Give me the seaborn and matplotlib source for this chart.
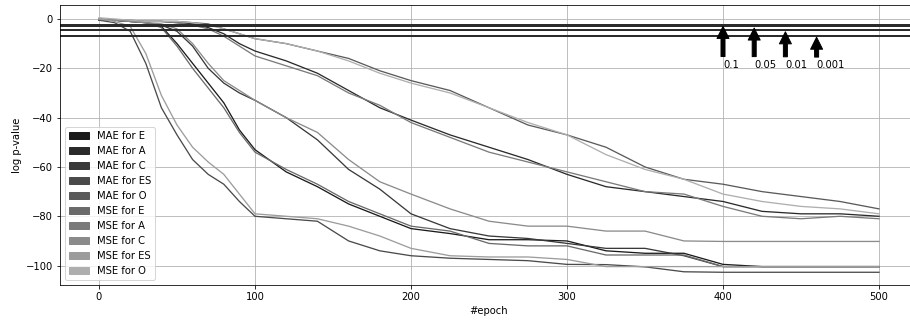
import numpy as np
import pandas as pd
import matplotlib
matplotlib.use('Agg')
import matplotlib.pyplot as plt
from matplotlib.patches import Patch
import seaborn as sns

epochs = [0, 10, 20, 30, 40, 50, 60, 70, 80, 90, 100, 120, 140, 160, 180, 200,
          225, 250, 275, 300, 325, 350, 375, 400, 425, 450, 475, 500]

mae_e = [-0.5, -0.5, -1, -1.5, -3, -10, -18, -26, -34, -45, -53, -62, -68, -75, -80, -85,
         -87, -89.5, -89.5, -90, -94, -95, -95, -99.5, -100.4, -100.4, -100.4, -100.4]
mae_a = [-0.5, -0.5, -1, -1, -1, -1.5, -2, -3.5, -6, -10, -13, -17, -22, -29, -36, -41,
         -47, -52, -57, -63, -68, -70, -72, -74, -78, -79, -79, -80]
mae_c = [-0.5, -0.5, -1, -1.5, -2.5, -5, -11, -20, -26, -30, -33, -40, -49, -61, -69, -79,
         -85, -88, -89, -91, -93, -93, -96, -100.4, -100.4, -100.4, -100.4, -100.4]
mae_es = [-0.5, -1.5, -5, -18, -36, -47, -57, -63, -67, -74, -80, -81, -82, -90, -94, -96,
          -97, -97.5, -98, -99.5, -99.6, -100.5, -102.5, -102.7, -102.7, -102.7, -102.7, -102.7]
mae_o = [-0.5, -0.5, -1, -1, -1, -1, -1.5, -2, -4, -6, -8, -10, -13, -16, -21, -25,
         -29, -36, -43, -47, -52, -60, -65, -67, -70, -72, -74, -77]
mse_e = [0, -0.5, -1, -1.5, -3.5, -11, -20, -28, -36, -46, -54, -61, -67, -74, -79, -84,
         -86, -91, -92, -92, -95.7, -95.7, -95.7, -100.4, -100.4, -100.4, -100.4, -100.4]
mse_a = [0, -0.5, -0.5, -1, -1, -1.5, -2.5, -4, -7, -11, -15, -19, -23, -30, -35, -42,
         -48, -54, -58, -62, -66, -70, -71, -76, -80, -81, -80, -81]
mse_c = [0, -0.5, -1, -1.5, -2, -4, -10, -18, -25, -29, -33, -40, -46, -57, -66, -71,
         -77, -82, -84, -84, -86, -86, -90, -90.2, -90.2, -90.2, -90.2, -90.2]
mse_es = [0, -1, -3, -14, -31, -43, -52, -58, -63, -71, -79, -80, -81, -84, -88, -93,
          -96, -96.5, -96.5, -97.5, -100.4, -100.4, -100.4, -100.4, -100.4, -100.4, -100.4, -100.4]
mse_o = [0.5, 0, -0.5, -1, -1, -1, -1.5, -2.5, -4, -6, -8, -10, -13, -17, -22, -26,
         -30, -36, -42, -47, -55, -61, -65, -71, -74, -76, -77, -79]

labels = ['MAE for E', 'MAE for A', 'MAE for C', 'MAE for ES', 'MAE for O',
          'MSE for E', 'MSE for A', 'MSE for C', 'MSE for ES', 'MSE for O']
series = [mae_e, mae_a, mae_c, mae_es, mae_o, mse_e, mse_a, mse_c, mse_es, mse_o]

p_levels = [0.1, 0.05, 0.01, 0.001]
arrow_x = [400, 420, 440, 460]
level_labels = ['0.1', '0.05', '0.01', '0.001']

greys = ['#1a1a1a', '#2a2a2a', '#393939', '#4a4a4a', '#5a5a5a',
         '#6a6a6a', '#7a7a7a', '#8b8b8b', '#9c9c9c', '#aeaeae']

# long form table for seaborn
df = pd.concat([pd.DataFrame({'epoch': epochs, 'logp': vals, 'name': lab})
                for lab, vals in zip(labels, series)], ignore_index=True)

fig = plt.figure(figsize=(910 / 72, 322 / 72), dpi=72)
# right edge runs a little past the figure, as in the original crop
ax = fig.add_axes([60 / 910, 1 - 285 / 322, 858 / 910, 280 / 322])

sns.lineplot(data=df, x='epoch', y='logp', hue='name', hue_order=labels,
             palette=greys, estimator=None, legend=False, linewidth=1.3, ax=ax)

for p in p_levels:
    ax.axhline(np.log(p), color='#2b2b2b', linewidth=2)

for x, p, t in zip(arrow_x, p_levels, level_labels):
    ax.annotate(t, xy=(x, np.log(p)), xytext=(x, -20),
                arrowprops=dict(facecolor='black', shrink=0.05))

ax.grid(True)
ax.set_xlabel('#epoch')
ax.set_ylabel('log p-value')

handles = [Patch(color=c, label=l) for c, l in zip(greys, labels)]
ax.legend(handles=handles, loc='lower left')

fig.savefig('out.png', dpi=72)
